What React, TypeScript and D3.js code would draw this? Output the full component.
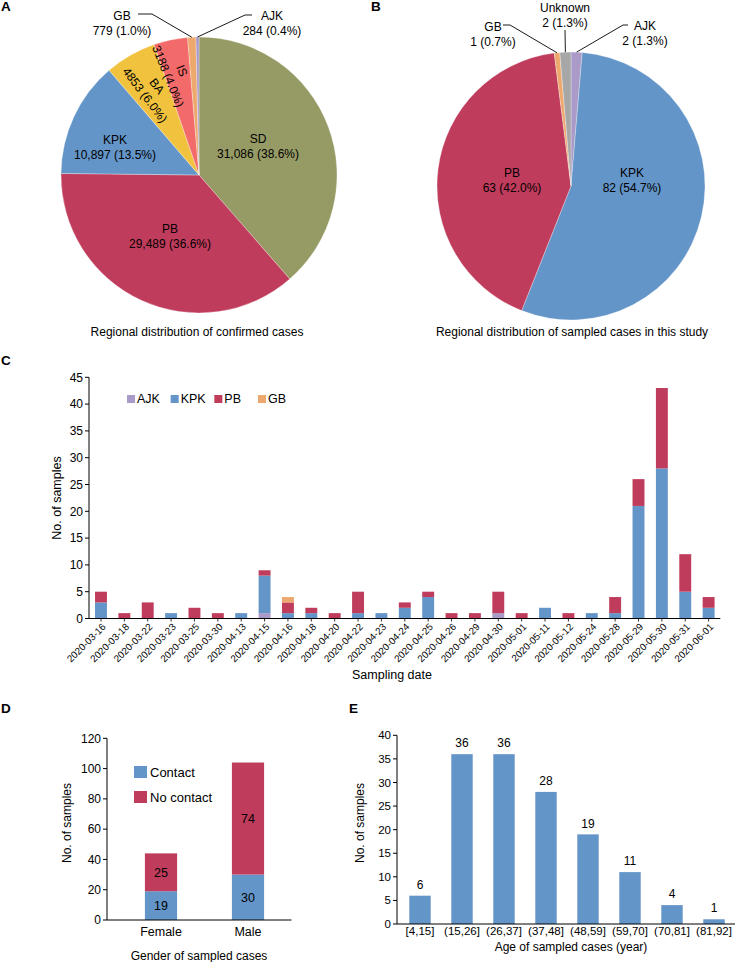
import React from "react";
import * as d3 from "d3";

const FONT = "'Liberation Sans', Arial, Helvetica, sans-serif";

// ---------- Panel A: confirmed cases ----------
const regionsA = ["SD", "PB", "KPK", "BA", "IS", "GB", "AJK"];
const casesA = [31086, 29489, 10897, 4853, 3188, 779, 284];

// ---------- Panel B: sampled cases ----------
const regionsB = ["AJK", "KPK", "PB", "GB", "Unknown"];
const casesB = [2, 82, 63, 1, 2];

// ---------- Panel C: sampling dates ----------
const dates = [
  "2020-03-16", "2020-03-18", "2020-03-22", "2020-03-23", "2020-03-25", "2020-03-30",
  "2020-04-13", "2020-04-15", "2020-04-16", "2020-04-18", "2020-04-20", "2020-04-22",
  "2020-04-23", "2020-04-24", "2020-04-25", "2020-04-26", "2020-04-29", "2020-04-30",
  "2020-05-01", "2020-05-11", "2020-05-12", "2020-05-24", "2020-05-28", "2020-05-29",
  "2020-05-30", "2020-05-31", "2020-06-01",
];
const ajkC = [0, 0, 0, 0, 0, 0, 0, 1, 0, 0, 0, 0, 0, 0, 0, 0, 0, 1, 0, 0, 0, 0, 0, 0, 0, 0, 0];
const kpkC = [3, 0, 0, 1, 0, 0, 1, 7, 1, 1, 0, 1, 1, 2, 4, 0, 0, 0, 0, 2, 0, 1, 1, 21, 28, 5, 2];
const pbC = [2, 1, 3, 0, 2, 1, 0, 1, 2, 1, 1, 4, 0, 1, 1, 1, 1, 4, 1, 0, 1, 0, 3, 5, 15, 7, 2];
const gbC = [0, 0, 0, 0, 0, 0, 0, 0, 1, 0, 0, 0, 0, 0, 0, 0, 0, 0, 0, 0, 0, 0, 0, 0, 0, 0, 0];
const seriesC = ["AJK", "KPK", "PB", "GB"];
const ticksC = [0, 5, 10, 15, 20, 25, 30, 35, 40, 45];

// ---------- Panel D: gender ----------
const genders = ["Female", "Male"];
const contactD = [19, 30];
const noContactD = [25, 74];
const ticksD = [0, 20, 40, 60, 80, 100, 120];

// ---------- Panel E: age ----------
const ageGroups = ["[4,15]", "(15,26]", "(26,37]", "(37,48]", "(48,59]", "(59,70]", "(70,81]", "(81,92]"];
const ageCounts = [6, 36, 36, 28, 19, 11, 4, 1];
const ticksE = [0, 5, 10, 15, 20, 25, 30, 35, 40];

const COLORS: Record<string, string> = {
  SD: "#969b65",
  PB: "#c03c5c",
  KPK: "#6495c8",
  BA: "#f0c23e",
  IS: "#f36a6a",
  GB: "#eda86e",
  AJK: "#a99ac8",
  Unknown: "#a7a7a7",
};

// ---------- layout ----------
const pieA = { cx: 199, cy: 175, r: 138 };
const pieB = { cx: 571, cy: 186, r: 134 };

// label centre offsets from the pie centre [dx, dy, rotation]
const labelA: Record<string, number[]> = {
  SD: [59, -28.5, 0],
  PB: [-29, 61, 0],
  KPK: [-84, -28, 0],
  BA: [-48, -84.5, 53],
  IS: [-24, -101.5, 68],
  GB: [-77, -152, 0],
  AJK: [73, -152, 0],
};
const leaderA: Record<string, number[][]> = {
  GB: [[-61, -161], [-47, -161]],
  AJK: [[53, -160], [46, -160]],
};
const labelB: Record<string, number[]> = {
  KPK: [61, -5.5, 0],
  PB: [-59, -5.5, 0],
  GB: [-78, -152, 0],
  Unknown: [-6, -171, 0],
  AJK: [74, -153, 0],
};
const leaderB: Record<string, number[][]> = {
  GB: [[-68, -161], [-61, -161]],
  Unknown: [[-6, -156]],
  AJK: [[57, -161], [52, -161]],
};

function fmtCount(v: number) {
  return v >= 10000 ? d3.format(",")(v) : String(v);
}

function Pie({
  geo, names, values, labels, leaders,
}: {
  geo: { cx: number; cy: number; r: number };
  names: string[];
  values: number[];
  labels: Record<string, number[]>;
  leaders: Record<string, number[][]>;
}) {
  const total = d3.sum(values);
  const arcs = d3.pie<number>().sort(null).value((d) => d)(values);
  const arc = d3.arc<d3.PieArcDatum<number>>().innerRadius(0).outerRadius(geo.r);
  return (
    <g transform={`translate(${geo.cx},${geo.cy})`}>
      {arcs.map((a, i) => (
        <path key={names[i]} d={arc(a) || ""} fill={COLORS[names[i]]} stroke="#fff" strokeWidth={0.3} />
      ))}
      {arcs.map((a, i) => {
        const name = names[i];
        const lead = leaders[name];
        if (!lead) return null;
        const mid = (a.startAngle + a.endAngle) / 2;
        const ex = geo.r * Math.sin(mid);
        const ey = -geo.r * Math.cos(mid);
        const pts = [...lead, [ex, ey]].map((p) => p.join(",")).join(" ");
        return <polyline key={"l" + name} points={pts} fill="none" stroke="#000" strokeWidth={0.9} />;
      })}
      {arcs.map((a, i) => {
        const name = names[i];
        const [dx, dy, rot] = labels[name];
        const pct = ((values[i] / total) * 100).toFixed(1);
        return (
          <g key={"t" + name} transform={`translate(${dx},${dy}) rotate(${rot})`} fontSize={12} textAnchor="middle">
            <text y={-7.5} dy="0.35em">{name}</text>
            <text y={7.5} dy="0.35em">{`${fmtCount(values[i])} (${pct}%)`}</text>
          </g>
        );
      })}
    </g>
  );
}

function YAxis({ scale, x, ticks, fontSize }: { scale: d3.ScaleLinear<number, number>; x: number; ticks: number[]; fontSize: number }) {
  const [y0, y1] = scale.range();
  return (
    <g>
      <line x1={x} x2={x} y1={y0} y2={y1} stroke="#000" strokeWidth={1} />
      {ticks.map((t) => (
        <g key={t}>
          <line x1={x - 4} x2={x} y1={scale(t)} y2={scale(t)} stroke="#000" strokeWidth={1} />
          <text x={x - 6} y={scale(t)} dy="0.35em" textAnchor="end" fontSize={fontSize}>{t}</text>
        </g>
      ))}
    </g>
  );
}

function PanelC() {
  const x = d3.scaleBand<string>().domain(dates).range([89.3, 720.3]);
  const y = d3.scaleLinear().domain([0, 45]).range([618.5, 377.3]);
  const rows = dates.map((d, i) => ({ date: d, AJK: ajkC[i], KPK: kpkC[i], PB: pbC[i], GB: gbC[i] }));
  const stack = d3.stack<any>().keys(seriesC)(rows);
  const bw = x.bandwidth() * 0.51;
  const legendX = d3.scalePoint<string>().domain(seriesC).range([127, 258]);
  return (
    <g>
      {stack.map((s) => (
        <g key={s.key} fill={COLORS[s.key]}>
          {s.map((p, i) =>
            p[1] - p[0] > 0 ? (
              <rect key={i} x={(x(dates[i]) as number) + (x.bandwidth() - bw) / 2} width={bw} y={y(p[1])} height={y(p[0]) - y(p[1])} />
            ) : null
          )}
        </g>
      ))}
      <YAxis scale={y} x={89} ticks={ticksC} fontSize={12} />
      <line x1={89} x2={720.3} y1={618.5} y2={618.5} stroke="#000" strokeWidth={1} />
      {dates.map((d) => {
        const cx = (x(d) as number) + x.bandwidth() / 2;
        return (
          <g key={d}>
            <line x1={cx} x2={cx} y1={618.5} y2={621.5} stroke="#000" strokeWidth={0.8} />
            <text transform={`translate(${cx + 3},${625}) rotate(-45)`} textAnchor="end" dy="0.35em" fontSize={9.8}>{d}</text>
          </g>
        );
      })}
      <text transform="translate(57,498) rotate(-90)" textAnchor="middle" dy="0.35em" fontSize={12.5}>No. of samples</text>
      <text x={392} y={675} textAnchor="middle" dy="0.35em" fontSize={12.5}>Sampling date</text>
      {seriesC.map((k) => (
        <g key={k} transform={`translate(${legendX(k)},395)`}>
          <rect width={8} height={8} fill={COLORS[k]} />
          <text x={10} y={4} dy="0.35em" fontSize={12.5}>{k}</text>
        </g>
      ))}
    </g>
  );
}

function PanelD() {
  const x = d3.scaleBand<string>().domain(genders).range([117.5, 291.5]);
  const y = d3.scaleLinear().domain([0, 120]).range([920, 738.3]);
  const bw = x.bandwidth() * 0.37;
  const legend = [
    { name: "Contact", color: COLORS.KPK },
    { name: "No contact", color: COLORS.PB },
  ];
  return (
    <g>
      {genders.map((g, i) => {
        const bx = (x(g) as number) + (x.bandwidth() - bw) / 2;
        const cx = (x(g) as number) + x.bandwidth() / 2;
        const c = contactD[i];
        const n = noContactD[i];
        return (
          <g key={g}>
            <rect x={bx} width={bw} y={y(c)} height={y(0) - y(c)} fill={COLORS.KPK} />
            <rect x={bx} width={bw} y={y(c + n)} height={y(c) - y(c + n)} fill={COLORS.PB} />
            <text x={cx} y={y(c / 2)} dy="0.35em" textAnchor="middle" fontSize={12.5}>{c}</text>
            <text x={cx} y={y(c + n / 2)} dy="0.35em" textAnchor="middle" fontSize={12.5}>{n}</text>
            <text x={cx} y={932} dy="0.35em" textAnchor="middle" fontSize={12.5}>{g}</text>
          </g>
        );
      })}
      <YAxis scale={y} x={107} ticks={ticksD} fontSize={12} />
      <line x1={107} x2={291.5} y1={920} y2={920} stroke="#000" strokeWidth={1} />
      <text transform="translate(67,823) rotate(-90)" textAnchor="middle" dy="0.35em" fontSize={12}>No. of samples</text>
      <text x={199} y={956} textAnchor="middle" dy="0.35em" fontSize={12}>Gender of sampled cases</text>
      {legend.map((l, i) => (
        <g key={l.name} transform={`translate(134,${766 + i * 25})`}>
          <rect width={13} height={12} fill={l.color} />
          <text x={16} y={6} dy="0.35em" fontSize={13}>{l.name}</text>
        </g>
      ))}
    </g>
  );
}

function PanelE() {
  const x = d3.scaleBand<string>().domain(ageGroups).range([399, 735]);
  const y = d3.scaleLinear().domain([0, 40]).range([924, 735.3]);
  const bw = x.bandwidth() * 0.51;
  return (
    <g>
      {ageGroups.map((g, i) => {
        const bx = (x(g) as number) + (x.bandwidth() - bw) / 2;
        const cx = (x(g) as number) + x.bandwidth() / 2;
        return (
          <g key={g}>
            <rect x={bx} width={bw} y={y(ageCounts[i])} height={y(0) - y(ageCounts[i])} fill={COLORS.KPK} />
            <text x={cx} y={y(ageCounts[i]) - 11} dy="0.35em" textAnchor="middle" fontSize={12}>{ageCounts[i]}</text>
            <text x={cx} y={931} dy="0.35em" textAnchor="middle" fontSize={11.5}>{g}</text>
          </g>
        );
      })}
      <YAxis scale={y} x={397} ticks={ticksE} fontSize={11.5} />
      <line x1={397} x2={735} y1={924} y2={924} stroke="#000" strokeWidth={1} />
      <text transform="translate(360,823) rotate(-90)" textAnchor="middle" dy="0.35em" fontSize={12}>No. of samples</text>
      <text x={571} y={947} textAnchor="middle" dy="0.35em" fontSize={12}>Age of sampled cases (year)</text>
    </g>
  );
}

export default function App() {
  return (
    <svg
      width={738}
      height={962}
      viewBox="0 0 738 962"
      style={{ position: "absolute", left: 0, top: 0, background: "#fff" }}
      fontFamily={FONT}
      fill="#000"
    >
      <rect width={738} height={962} fill="#fff" />
      <g fontWeight="bold" fontSize={13.5}>
        <text x={1} y={11}>A</text>
        <text x={371} y={11}>B</text>
        <text x={1} y={365}>C</text>
        <text x={1} y={713}>D</text>
        <text x={349} y={713}>E</text>
      </g>
      <Pie geo={pieA} names={regionsA} values={casesA} labels={labelA} leaders={leaderA} />
      <Pie geo={pieB} names={regionsB} values={casesB} labels={labelB} leaders={leaderB} />
      <text x={197} y={332} textAnchor="middle" dy="0.35em" fontSize={12}>Regional distribution of confirmed cases</text>
      <text x={572} y={332} textAnchor="middle" dy="0.35em" fontSize={12}>Regional distribution of sampled cases in this study</text>
      <PanelC />
      <PanelD />
      <PanelE />
    </svg>
  );
}
